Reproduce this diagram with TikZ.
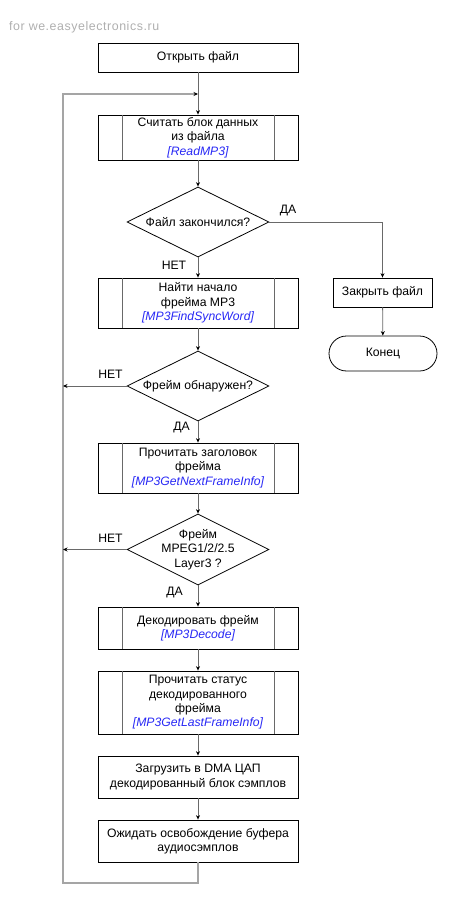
\documentclass[tikz,border=0pt]{standalone}
\usepackage{fontspec}
\setmainfont{Liberation Sans}
\newfontfamily\markfont[LetterSpace=4.5]{Liberation Sans}
\usetikzlibrary{shapes.geometric,arrows.meta}
\definecolor{linegray}{RGB}{105,105,105}
\definecolor{loopgray}{RGB}{165,165,165}
\definecolor{fnblue}{RGB}{40,40,245}
\definecolor{wmgray}{RGB}{175,175,175}
\newcommand\fnname[1]{{\color{fnblue}\itshape[#1]}}

\begin{document}
\begin{tikzpicture}[x=1pt,y=-1pt,
  font=\fontsize{12.2}{14.3}\selectfont,
  box/.style={draw=black, line width=0.8pt, minimum width=200pt, inner sep=0pt, align=center},
  decision/.style={draw=black, line width=0.8pt, shape=diamond, minimum width=142pt,
                   minimum height=70pt, inner sep=0pt},
  inner/.style={draw=linegray, line width=0.8pt},
  tip/.style={-{Stealth[length=4.5pt,width=4pt,color=black]}},
  flow/.style={draw=linegray, line width=0.8pt, tip},
  loopline/.style={draw=loopgray, line width=1.6pt, tip},
  answer/.style={inner sep=0pt}
]
\useasboundingbox (0,0) rectangle (469,920);

% watermark
\node[anchor=west, text=wmgray, font=\markfont\fontsize{12.4}{14}\selectfont, inner sep=0pt]
  (wm) at (9,27) {for we.easyelectronics.ru};

% main column
\node[box, minimum height=29pt] (open) at (198,57.5) {Открыть файл};
\node[box, minimum height=45pt] (read) at (198,137.5)
  {Считать блок данных\\из файла\\\fnname{ReadMP3}};
\node[decision, label={[align=center]center:Файл закончился?}] (dec1) at (198,222) {};
\node[box, minimum height=50pt] (find) at (198,303)
  {Найти начало\\фрейма MP3\\\fnname{MP3FindSyncWord}};
\node[decision, label={[align=center]center:Фрейм обнаружен?}] (dec2) at (198,386) {};
\node[box, minimum height=50pt] (hdr) at (198,468)
  {Прочитать заголовок\\фрейма\\\fnname{MP3GetNextFrameInfo}};
\node[decision, minimum height=71pt,
      label={[align=center]center:Фрейм\\MPEG1/2/2.5\\Layer3 ?}] (dec3) at (198,549.5) {};
\node[box, minimum height=42pt] (decode) at (198,628)
  {Декодировать фрейм\\\fnname{MP3Decode}};
\node[box, minimum height=63pt] (status) at (198,702.5)
  {Прочитать статус\\декодированного\\фрейма\\\fnname{MP3GetLastFrameInfo}};
\node[box, minimum height=42pt] (dma) at (198,777)
  {Загрузить в DMA ЦАП\\декодированный блок сэмплов};
\node[box, minimum height=42pt] (wait) at (198,841)
  {Ожидать освобождение буфера\\аудиосэмплов};

% right branch
\node[box, minimum width=99pt, minimum height=29pt] (close) at (382.5,292.5) {Закрыть файл};
\node[box, minimum width=108pt, minimum height=35pt, rounded corners=17.5pt] (end) at (383,353.5) {Конец};

% side bars of the predefined-process blocks
\foreach \n in {read,find,hdr,decode,status}
  \draw[inner] ([xshift=25pt]\n.north west) -- ([xshift=25pt]\n.south west)
               ([xshift=-24pt]\n.north east) -- ([xshift=-24pt]\n.south east);

% loop coordinates
\coordinate (join) at (198,94);
\coordinate (looptop) at (63,94);
\coordinate (loopbot) at (63,883);

% connectors
\draw[loopline] (wait.south) |- (loopbot) -- (looptop) -- (join);
\draw[flow] (open) -- (read);
\draw[flow] (read) -- (dec1);
\draw[flow] (dec1) -- (find);
\draw[flow] (dec1.east) -| (close.north);
\draw[flow] (close) -- (end);
\draw[flow] (find) -- (dec2);
\draw[flow] (dec2.west) -- (dec2.west -| looptop);
\draw[flow] (dec2) -- (hdr);
\draw[flow] (hdr) -- (dec3);
\draw[flow] (dec3.west) -- (dec3.west -| looptop);
\draw[flow] (dec3) -- (decode);
\draw[flow] (decode) -- (status);
\draw[flow] (status) -- (dma);
\draw[flow] (dma) -- (wait);

% answer labels
\node[answer] (yes1) at (288,211) {ДА};
\node[answer] (no1) at (174,265) {НЕТ};
\node[answer] (no2) at (110.5,374) {НЕТ};
\node[answer] (yes2) at (181.5,428) {ДА};
\node[answer] (no3) at (110.5,538) {НЕТ};
\node[answer] (yes3) at (174.5,593) {ДА};
\end{tikzpicture}
\end{document}
